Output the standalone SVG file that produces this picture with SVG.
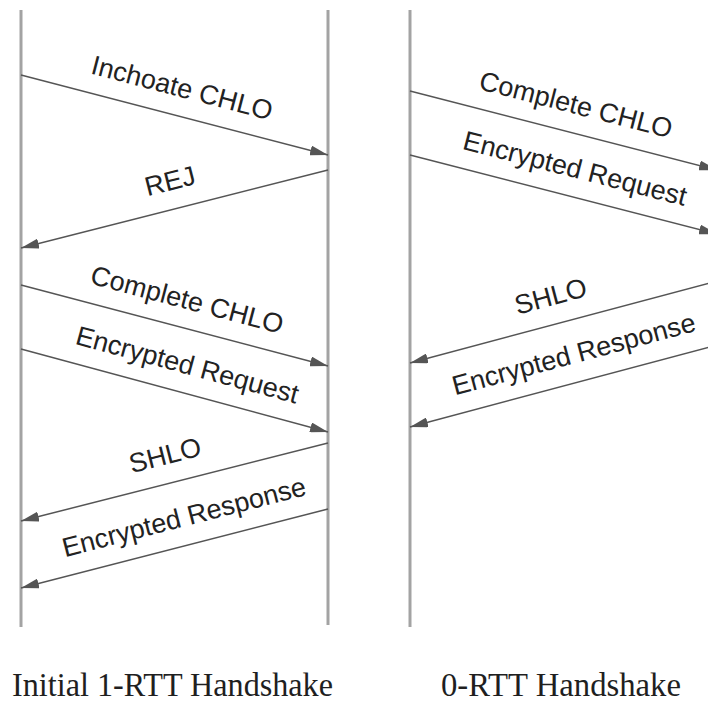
<svg xmlns="http://www.w3.org/2000/svg" width="708" height="702" viewBox="0 0 708 702">
  <style>
    .lifeline { stroke: #a3a3a3; stroke-width: 3; fill: none; }
    .msg { stroke: #555555; stroke-width: 1.5; fill: none; marker-end: url(#head); }
    .label { font-family: "Liberation Sans", Arial, sans-serif; font-size: 27px; fill: #222222; text-anchor: middle; }
    .title { font-family: "Liberation Serif", "Times New Roman", serif; font-size: 33px; fill: #1f1f1f; text-anchor: middle; }
  </style>
  <defs>
    <marker id="head" markerUnits="userSpaceOnUse" markerWidth="18" markerHeight="10" refX="18" refY="5" orient="auto">
      <path d="M0,0 L18,5 L0,10 z" fill="#555555"/>
    </marker>
  </defs>
  <rect width="708" height="702" fill="#ffffff"/>

  <!-- lifelines -->
  <g id="client-1rtt"><line class="lifeline" x1="21" y1="10" x2="21" y2="627"/></g>
  <g id="server-1rtt"><line class="lifeline" x1="328" y1="10" x2="328" y2="625"/></g>
  <g id="client-0rtt"><line class="lifeline" x1="410" y1="10" x2="410" y2="627"/></g>

  <!-- messages -->
  <g id="connectors">
    <!-- initial 1-RTT handshake -->
    <line class="msg" x1="21" y1="75" x2="328" y2="155"/>
    <text class="label" transform="translate(175,115.2) rotate(14.61)" y="-19">Inchoate CHLO</text>

    <line class="msg" x1="328" y1="170" x2="21" y2="248"/>
    <text class="label" transform="translate(177,208.4) rotate(-14.26)" y="-19">REJ</text>

    <line class="msg" x1="21" y1="285" x2="328" y2="366"/>
    <text class="label" transform="translate(180,327) rotate(14.78)" y="-19">Complete CHLO</text>

    <line class="msg" x1="21" y1="349" x2="328" y2="432"/>
    <text class="label" transform="translate(180,392) rotate(15.13)" y="-19">Encrypted Request</text>

    <line class="msg" x1="328" y1="443" x2="21" y2="521"/>
    <text class="label" transform="translate(172,482.6) rotate(-14.26)" y="-19">SHLO</text>

    <line class="msg" x1="328" y1="509" x2="21" y2="588"/>
    <text class="label" transform="translate(191,544.3) rotate(-14.43)" y="-19">Encrypted Response</text>

    <!-- 0-RTT handshake -->
    <line class="msg" x1="410" y1="91" x2="717" y2="170"/>
    <text class="label" transform="translate(569,132) rotate(14.43)" y="-19">Complete CHLO</text>

    <line class="msg" x1="410" y1="155" x2="717" y2="234"/>
    <text class="label" transform="translate(568,195.7) rotate(14.43)" y="-19">Encrypted Request</text>

    <line class="msg" x1="717" y1="281" x2="410" y2="363"/>
    <text class="label" transform="translate(558,323.5) rotate(-14.95)" y="-19">SHLO</text>

    <line class="msg" x1="717" y1="345" x2="410" y2="427"/>
    <text class="label" transform="translate(581,381.3) rotate(-14.95)" y="-19">Encrypted Response</text>
  </g>

  <!-- captions -->
  <g id="caption-1rtt"><text class="title" x="172.5" y="696" textLength="321" lengthAdjust="spacingAndGlyphs">Initial 1-RTT Handshake</text></g>
  <g id="caption-0rtt"><text class="title" x="561" y="696" textLength="240" lengthAdjust="spacingAndGlyphs">0-RTT Handshake</text></g>
</svg>
